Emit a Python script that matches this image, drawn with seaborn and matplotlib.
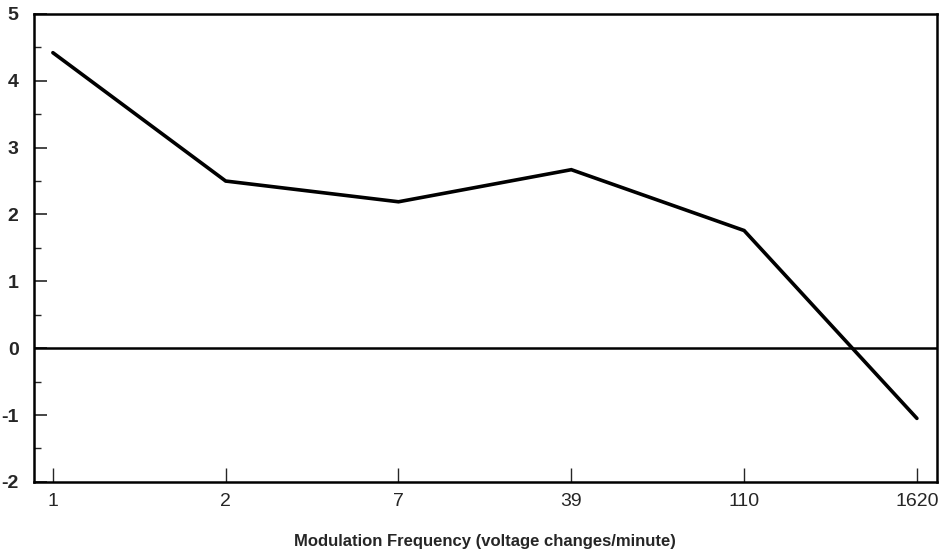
import matplotlib
matplotlib.use("Agg")
import matplotlib.pyplot as plt
from matplotlib import font_manager
from matplotlib.ticker import MultipleLocator
import seaborn as sns
import pandas as pd

# Modulation frequencies (voltage changes per minute) and measured response
frequencies = ["1", "2", "7", "39", "110", "1620"]
response = [4.42, 2.50, 2.19, 2.67, 1.76, -1.05]

df = pd.DataFrame({"freq": frequencies, "value": response, "pos": range(len(frequencies))})

sns.set_style("white")
plt.rcParams["font.family"] = ["Liberation Sans", "DejaVu Sans"]
plt.rcParams["axes.unicode_minus"] = False

# Prefer a condensed face for the x-axis text when one is available
try:
    font_manager.findfont(font_manager.FontProperties(family="Liberation Sans Narrow"),
                          fallback_to_default=False)
    narrow = "Liberation Sans Narrow"
    tick_size, label_size = 16, 15
except Exception:
    narrow = "Liberation Sans"
    tick_size, label_size = 14, 12

fig = plt.figure(figsize=(9.41, 5.52), dpi=100)
ax = fig.add_axes([0.036, 0.127, 0.9597, 0.8478])

sns.lineplot(data=df, x="pos", y="value", ax=ax, color="black", linewidth=2.6,
             solid_capstyle="round", solid_joinstyle="miter")
ax.axhline(0, color="black", linewidth=1.8)

ax.set_xlim(-0.11, 5.116)
ax.set_ylim(-2, 5)
ax.set_xticks(range(len(frequencies)))
ax.set_xticklabels(frequencies, fontsize=tick_size, family=narrow)
ax.yaxis.set_major_locator(MultipleLocator(1))
ax.yaxis.set_minor_locator(MultipleLocator(0.5))
for lbl in ax.get_yticklabels():
    lbl.set_fontsize(14)
    lbl.set_fontweight("bold")

ax.tick_params(axis="y", which="major", direction="in", length=9, width=1.2, left=True, pad=11)
ax.tick_params(axis="y", which="minor", direction="in", length=5, width=1.0, left=True)
ax.tick_params(axis="x", which="major", direction="in", length=10, width=1.0, bottom=True, pad=8)

for sp in ax.spines.values():
    sp.set_visible(True)
    sp.set_color("black")
    sp.set_linewidth(1.8)

ax.set_ylabel("")
ax.set_xlabel("Modulation Frequency (voltage changes/minute)", fontsize=label_size,
              family=narrow, fontweight="bold", labelpad=17)

fig.savefig("out.png", dpi=100)
